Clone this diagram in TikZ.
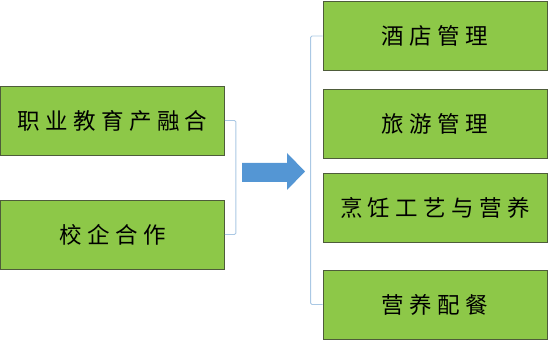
\documentclass[tikz,border=0pt]{standalone}
\usepackage{fontspec}
\newfontfamily\cjk[LetterSpace=24]{Noto Sans CJK SC}
\definecolor{boxgreen}{RGB}{141,200,72}
\definecolor{boxedge}{RGB}{78,92,58}
\definecolor{linkblue}{RGB}{170,200,228}
\definecolor{arrowblue}{RGB}{84,150,212}
\tikzset{
  greenbox/.style={draw=boxedge, line width=0.8pt, fill=boxgreen,
    minimum width=224pt, minimum height=69pt, inner sep=0pt,
    font=\cjk\fontsize{22.5}{22.5}\selectfont},
  bracket/.style={draw=linkblue, line width=0.9pt, rounded corners=1.5pt}
}
\begin{document}
\begin{tikzpicture}[x=1pt, y=1pt]
    \useasboundingbox (0,0) rectangle (550,344);

    % Left column
    \node[greenbox] (chanrong) at (112.5,223.5) {职业教育产融合};
    \node[greenbox] (xiaoqi)   at (112.5,109.5) {校企合作};

    % Right column
    \node[greenbox] (jiudian) at (435,308)   {酒店管理};
    \node[greenbox] (lvyou)   at (435,220)   {旅游管理};
    \node[greenbox] (pengren) at (435,136.5) {烹饪工艺与营养};
    \node[greenbox] (yingyang) at (435,39.5) {营养配餐};

    % Brackets
    \draw[bracket] (chanrong.east) -- ++(11,0) |- (xiaoqi.east);
    \draw[bracket] (jiudian.west) -- ++(-12,0) |- (yingyang.west);

    % Block arrow
    \fill[arrowblue] (242,162) -- (287,162) -- (287,154) -- (305,172.5)
        -- (287,191) -- (287,181) -- (242,181) -- cycle;
\end{tikzpicture}
\end{document}
